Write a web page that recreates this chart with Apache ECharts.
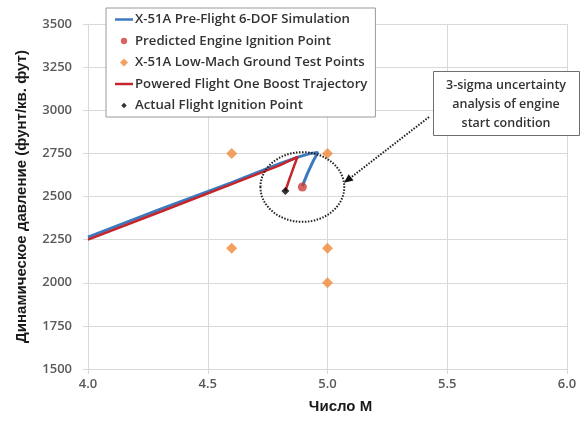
<!DOCTYPE html>
<html>
<head>
<meta charset="utf-8">
<script src="https://cdn.jsdelivr.net/npm/echarts@6/dist/echarts.min.js"></script>
<style>
  html, body { margin: 0; padding: 0; background: #fff; }
  #chart { width: 586px; height: 425px; }
</style>
</head>
<body>
<div id="chart"></div>
<script>
// X-51A pre-flight 6-DOF simulation: Mach number vs dynamic pressure (psf)
const simMach = [4.0, 4.3, 4.6, 4.8, 4.88, 4.93, 4.96, 4.94, 4.915, 4.895];
const simQ    = [2265, 2425, 2580, 2690, 2730, 2750, 2755, 2705, 2630, 2560];

// Powered flight one boost trajectory
const boostMach = [4.0, 4.3, 4.6, 4.8, 4.875, 4.86, 4.842, 4.824];
const boostQ    = [2250, 2410, 2572, 2680, 2730, 2675, 2605, 2532];

// Predicted engine ignition point
const predictedMach = [4.895];
const predictedQ    = [2555];

// Low-Mach ground test points
const groundMach = [4.6, 5.0, 4.6, 5.0, 5.0];
const groundQ    = [2750, 2750, 2200, 2200, 2000];

// Actual flight ignition point
const actualMach = [4.824];
const actualQ    = [2532];

// 3-sigma uncertainty half-ranges around the predicted ignition point (Mach, psf)
const sigmaMach = 0.175;
const sigmaQ    = 202;

// Axis ticks
const machTicks = [4.0, 4.5, 5.0, 5.5, 6.0];
const qTicks    = [1500, 1750, 2000, 2250, 2500, 2750, 3000, 3250, 3500];

const names = [
  'X-51A Pre-Flight 6-DOF Simulation',
  'Predicted Engine Ignition Point',
  'X-51A Low-Mach Ground Test Points',
  'Powered Flight One Boost Trajectory',
  'Actual Flight Ignition Point'
];

const colors = {
  sim: '#3d79bf',
  predicted: '#cd3d3a',
  ground: '#f08a3a',
  boost: '#c4262c',
  actual: '#000000'
};

const zip = (a, b) => a.map((v, i) => [v, b[i]]);

// Legend glyphs: bars for trajectories, small markers for points
const lineIcon = 'path://M0,0 L18,0 L18,2.5 L0,2.5 Z';
const circleIcon = 'path://M0,0 M20,20 M10,3 A7,7 0 1,1 9.99,3 Z';
const diamondIcon = 'path://M0,0 M20,20 M10,1 L19,10 L10,19 L1,10 Z';
const smallDiamondIcon = 'path://M0,0 M20,20 M10,4 L16,10 L10,16 L4,10 Z';

const chart = echarts.init(document.getElementById('chart'), null, { renderer: 'canvas' });

const gridLine = { show: true, lineStyle: { color: '#d9d9d9', width: 1 } };
const axisLbl = { color: '#595959', fontFamily: 'Open Sans', fontSize: 13, fontWeight: 600 };

chart.setOption({
  animation: false,
  backgroundColor: '#ffffff',
  grid: { left: 88, right: 19, top: 24, bottom: 56 },
  xAxis: {
    type: 'value',
    min: machTicks[0],
    max: machTicks[machTicks.length - 1],
    interval: 0.5,
    name: 'Число М',
    nameLocation: 'middle',
    nameGap: 30,
    nameTextStyle: { fontFamily: 'Liberation Sans', fontWeight: 'bold', fontSize: 15, color: '#1a1a1a', padding: [0, 0, 0, 26] },
    axisLine: { show: true, lineStyle: { color: '#d9d9d9' } },
    axisTick: { show: true, length: 5, lineStyle: { color: '#d9d9d9' } },
    splitLine: gridLine,
    axisLabel: Object.assign({ margin: 9, formatter: v => v.toFixed(1) }, axisLbl)
  },
  yAxis: {
    type: 'value',
    min: qTicks[0],
    max: qTicks[qTicks.length - 1],
    interval: 250,
    name: 'Динамическое давление (фунт/кв. фут)',
    nameLocation: 'middle',
    nameGap: 59,
    nameTextStyle: { fontFamily: 'Liberation Sans', fontWeight: 'bold', fontSize: 15, color: '#1a1a1a' },
    axisLine: { show: true, lineStyle: { color: '#d9d9d9' } },
    axisTick: { show: true, length: 5, lineStyle: { color: '#d9d9d9' } },
    splitLine: gridLine,
    axisLabel: Object.assign({ margin: 16, formatter: v => String(v) }, axisLbl)
  },
  legend: {
    orient: 'vertical',
    left: 106,
    top: 8,
    data: [
      { name: names[0], icon: lineIcon },
      { name: names[1], icon: circleIcon },
      { name: names[2], icon: diamondIcon },
      { name: names[3], icon: lineIcon },
      { name: names[4], icon: smallDiamondIcon }
    ],
    itemWidth: 18,
    itemHeight: 9,
    itemGap: 8.5,
    symbolKeepAspect: true,
    padding: [5, 8, 5, 9],
    backgroundColor: '#ffffff',
    borderColor: '#9a9a9a',
    borderWidth: 1,
    textStyle: { fontFamily: 'Open Sans', fontSize: 13.2, color: '#333333', fontWeight: 600, padding: [0, 0, 0, -3] },
    selectedMode: false
  },
  series: [
    {
      name: names[0], type: 'line', data: zip(simMach, simQ),
      symbol: 'none', lineStyle: { color: colors.sim, width: 3 }, itemStyle: { color: colors.sim }, z: 2
    },
    {
      name: names[1], type: 'scatter', data: zip(predictedMach, predictedQ),
      symbol: 'circle', symbolSize: 9, itemStyle: { color: colors.predicted }, z: 5
    },
    {
      name: names[2], type: 'scatter', data: zip(groundMach, groundQ),
      symbol: 'diamond', symbolSize: 11, itemStyle: { color: colors.ground }, z: 5
    },
    {
      name: names[3], type: 'line', data: zip(boostMach, boostQ),
      symbol: 'none', lineStyle: { color: colors.boost, width: 2.5 }, itemStyle: { color: colors.boost }, z: 3
    },
    {
      name: names[4], type: 'scatter', data: zip(actualMach, actualQ),
      symbol: 'diamond', symbolSize: 8, itemStyle: { color: colors.actual }, z: 6
    }
  ]
});

// Uncertainty ellipse, callout box and dotted pointer arrow
const c = chart.convertToPixel({ gridIndex: 0 }, [predictedMach[0], predictedQ[0]]);
const ex = chart.convertToPixel({ gridIndex: 0 }, [predictedMach[0] + sigmaMach, predictedQ[0]]);
const ey = chart.convertToPixel({ gridIndex: 0 }, [predictedMach[0], predictedQ[0] + sigmaQ]);
const rx = ex[0] - c[0];
const ry = c[1] - ey[1];

// Arrow tip sits on the right side of the ellipse, slightly above centre
const tipAngle = -0.12;
const tip = [c[0] + rx * Math.cos(tipAngle), c[1] + ry * Math.sin(tipAngle)];
const tail = [429, 117];
const ang = Math.atan2(tip[1] - tail[1], tip[0] - tail[0]);
const headLen = 9, headHalf = 4;
const base = [tip[0] - headLen * Math.cos(ang), tip[1] - headLen * Math.sin(ang)];
const perp = [-Math.sin(ang) * headHalf, Math.cos(ang) * headHalf];

chart.setOption({
  graphic: [
    {
      type: 'ellipse', z: 10,
      shape: { cx: c[0], cy: c[1], rx: rx, ry: ry },
      style: { fill: null, stroke: '#222', lineWidth: 2, lineDash: [1.5, 1.5] }
    },
    {
      type: 'line', z: 10,
      shape: { x1: tail[0], y1: tail[1], x2: base[0], y2: base[1] },
      style: { stroke: '#222', lineWidth: 2, lineDash: [1.5, 1.5] }
    },
    {
      type: 'polygon', z: 10,
      shape: { points: [tip, [base[0] + perp[0], base[1] + perp[1]], [base[0] - perp[0], base[1] - perp[1]]] },
      style: { fill: '#111' }
    },
    {
      type: 'rect', z: 10,
      shape: { x: 433.5, y: 71.5, width: 146, height: 64 },
      style: { fill: '#ffffff', stroke: '#6e6e6e', lineWidth: 1 }
    },
    {
      type: 'text', z: 11,
      x: 506, y: 76,
      style: {
        text: '3-sigma uncertainty\nanalysis of engine\nstart condition',
        fontFamily: 'Open Sans', fontSize: 12.5, fontWeight: 600, lineHeight: 19,
        fill: '#333333', align: 'center', verticalAlign: 'top'
      }
    }
  ]
});
</script>
</body>
</html>
